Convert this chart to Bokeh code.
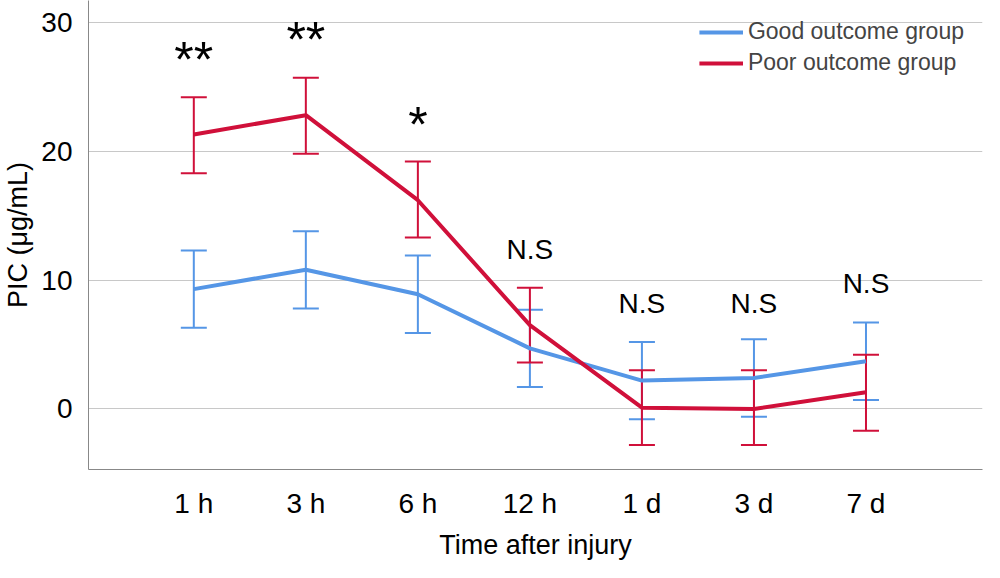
from bokeh.plotting import figure
from bokeh.models import ColumnDataSource, Whisker, Legend, LegendItem, FixedTicker, Range1d, TeeHead
from bokeh.embed import file_html
from bokeh.resources import INLINE
from bokeh.core.properties import value

labels = ["1 h", "3 h", "6 h", "12 h", "1 d", "3 d", "7 d"]
good = [9.3, 10.8, 8.9, 4.7, 2.2, 2.4, 3.7]
good_lo = [6.3, 7.8, 5.9, 1.7, -0.8, -0.6, 0.7]
good_hi = [12.3, 13.8, 11.9, 7.7, 5.2, 5.4, 6.7]
poor = [21.3, 22.8, 16.2, 6.5, 0.1, 0.0, 1.3]
poor_lo = [18.3, 19.8, 13.3, 3.6, -2.8, -2.8, -1.7]
poor_hi = [24.2, 25.7, 19.2, 9.4, 3.0, 3.0, 4.2]
star_x = [1, 2, 3]
star = ["**", "**", "*"]
star_y = [24.9, 26.5, 19.9]
ns_x = [4, 5, 6, 7]
ns = ["N.S", "N.S", "N.S", "N.S"]
ns_y = [11.2, 7.0, 7.0, 8.5]

x = list(range(1, 8))
FONT = "Liberation Sans"
BLUE = "#5596E6"
RED = "#D0103A"

p = figure(width=984, height=562, output_backend="svg", toolbar_location=None,
           x_range=Range1d(0.06, 8.04), y_range=Range1d(-4.7, 31.7),
           min_border_left=10, min_border_top=0, min_border_right=2, min_border_bottom=0)
p.outline_line_color = None
p.xgrid.grid_line_color = None
p.ygrid.grid_line_color = "#C8C8C8"
p.ygrid.grid_line_width = 1.2

p.xaxis.ticker = FixedTicker(ticks=x)
p.xaxis.major_label_overrides = {i + 1: l for i, l in enumerate(labels)}
p.yaxis.ticker = FixedTicker(ticks=[0, 10, 20, 30])
for ax in (p.xaxis, p.yaxis):
    ax.major_label_text_font = FONT
    ax.major_label_text_font_size = "28px"
    ax.major_label_text_color = "black"
    ax.axis_label_text_font = FONT
    ax.axis_label_text_font_size = "27px"
    ax.axis_label_text_font_style = "normal"
    ax.axis_label_text_color = "black"
    ax.axis_line_color = "#888888"
    ax.major_tick_line_color = None
    ax.minor_tick_line_color = None
p.xaxis.axis_label = "Time after injury"
p.yaxis.axis_label = "PIC (μg/mL)"
p.xaxis.major_label_standoff = 12
p.yaxis.major_label_standoff = 10
p.xaxis.axis_label_standoff = 8

src_g = ColumnDataSource(dict(x=x, y=good, lo=good_lo, hi=good_hi))
src_p = ColumnDataSource(dict(x=x, y=poor, lo=poor_lo, hi=poor_hi))

for src, col in ((src_g, BLUE), (src_p, RED)):
    w = Whisker(base="x", lower="lo", upper="hi", source=src, line_color=col, line_width=2,
                upper_head=TeeHead(size=26, line_color=col, line_width=2),
                lower_head=TeeHead(size=26, line_color=col, line_width=2))
    p.add_layout(w)

lg = p.line("x", "y", source=src_g, line_color=BLUE, line_width=4)
lp = p.line("x", "y", source=src_p, line_color=RED, line_width=4)

p.text(x=star_x, y=star_y, text=star, text_font=value(FONT), text_font_size="50px",
       text_align="center", text_baseline="bottom", text_color="black")
p.text(x=ns_x, y=ns_y, text=ns, text_font=value(FONT), text_font_size="28px",
       text_align="center", text_baseline="bottom", text_color="black")

leg = Legend(items=[LegendItem(label="Good outcome group", renderers=[lg]),
                    LegendItem(label="Poor outcome group", renderers=[lp])],
             location="top_right", border_line_color=None, background_fill_alpha=0,
             label_text_font=FONT, label_text_font_size="23px", glyph_width=44,
             spacing=4, margin=18, label_height=24)
p.add_layout(leg)

open("out.html", "w").write(file_html(p, INLINE))
